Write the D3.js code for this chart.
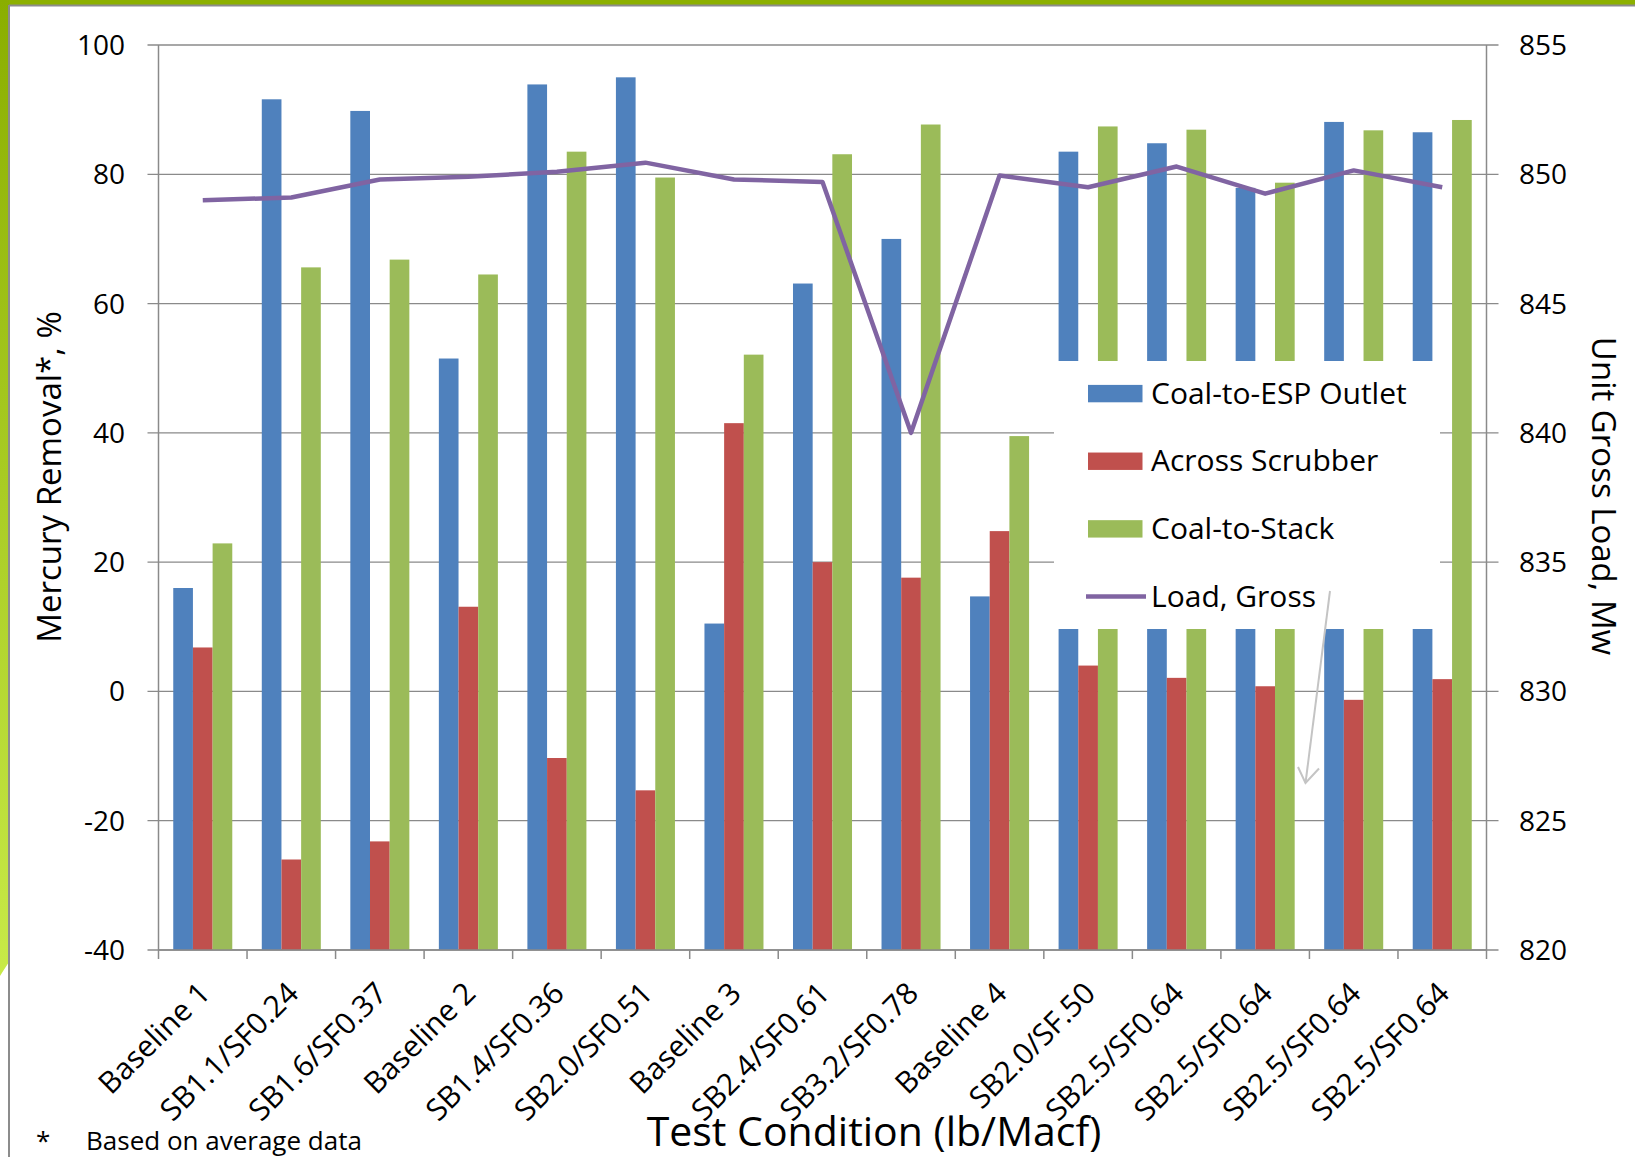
<!DOCTYPE html>
<html>
<head>
<meta charset="utf-8">
<script src="https://cdnjs.cloudflare.com/ajax/libs/d3/7.8.5/d3.min.js"></script>
<style>
  html, body { margin: 0; padding: 0; background: #fff; }
  svg { display: block; font-family: "Open Sans", "Noto Sans", sans-serif; }
</style>
</head>
<body>
<svg id="chart" width="1635" height="1157"></svg>
<script>
// Test conditions along the category axis
const categories = [
  "Baseline 1", "SB1.1/SF0.24", "SB1.6/SF0.37", "Baseline 2", "SB1.4/SF0.36",
  "SB2.0/SF0.51", "Baseline 3", "SB2.4/SF0.61", "SB3.2/SF0.78", "Baseline 4",
  "SB2.0/SF.50", "SB2.5/SF0.64", "SB2.5/SF0.64", "SB2.5/SF0.64", "SB2.5/SF0.64"
];

// Mercury removal, %
const coalToEspOutlet = [16.0, 91.6, 89.8, 51.5, 93.9, 95.0, 10.5, 63.1, 70.0, 14.7, 83.5, 84.8, 77.9, 88.1, 86.5];
const acrossScrubber  = [6.8, -26.0, -23.2, 13.1, -10.3, -15.3, 41.5, 20.0, 17.6, 24.8, 4.0, 2.1, 0.8, -1.3, 1.9];
const coalToStack     = [22.9, 65.6, 66.8, 64.5, 83.5, 79.5, 52.1, 83.1, 87.7, 39.5, 87.4, 86.9, 78.7, 86.8, 88.4];

// Unit gross load, MW
const loadGross = [849.0, 849.1, 849.8, 849.9, 850.1, 850.45, 849.8, 849.7, 840.0, 849.95, 849.5, 850.3, 849.25, 850.15, 849.5];

// Axis ticks
const leftTicks = [-40, -20, 0, 20, 40, 60, 80, 100];
const rightTicks = [820, 825, 830, 835, 840, 845, 850, 855];

const barSeries = [
  { name: "Coal-to-ESP Outlet", values: coalToEspOutlet, color: "#4F81BD" },
  { name: "Across Scrubber",    values: acrossScrubber,  color: "#C0504D" },
  { name: "Coal-to-Stack",      values: coalToStack,     color: "#9BBB59" }
];
const lineColor = "#8064A2";
const axisColor = "#8a8a8a";

const svg = d3.select("#chart");

// ---- slide frame: green accent strip and thin gray rules ----
const defs = svg.append("defs");
const grad = defs.append("linearGradient")
  .attr("id", "stripGrad").attr("x1", 0).attr("y1", 0).attr("x2", 0).attr("y2", 1);
grad.append("stop").attr("offset", "0%").attr("stop-color", "#8aae00");
grad.append("stop").attr("offset", "100%").attr("stop-color", "#c8ea48");

svg.append("rect").attr("x", 0).attr("y", 0).attr("width", 1635).attr("height", 5)
  .attr("fill", "#8cb000");
svg.append("path")
  .attr("d", "M0,0 L9,0 L9,962 Q5,968 0,976 Z")
  .attr("fill", "url(#stripGrad)");
svg.append("line").attr("x1", 9).attr("x2", 9).attr("y1", 5).attr("y2", 1157)
  .attr("stroke", "#8c8c8c").attr("stroke-width", 2);
svg.append("line").attr("x1", 9).attr("x2", 1635).attr("y1", 5.5).attr("y2", 5.5)
  .attr("stroke", "#8c8c8c").attr("stroke-width", 2);

// ---- scales ----
const plotLeft = 158.5, plotRight = 1486.5, plotTop = 45, plotBottom = 950;

const x = d3.scaleBand()
  .domain(d3.range(categories.length))
  .range([plotLeft, plotRight])
  .padding(0);

// three bars per category with a 150% gap (0.75 bar on each side)
const xs = d3.scaleBand()
  .domain(d3.range(barSeries.length))
  .range([0, x.bandwidth()])
  .paddingInner(0)
  .paddingOuter(0.75);

const y = d3.scaleLinear().domain([-40, 100]).range([plotBottom, plotTop]);
const y2 = d3.scaleLinear().domain([820, 855]).range([plotBottom, plotTop]);

// ---- gridlines ----
svg.append("g")
  .selectAll("line")
  .data(leftTicks)
  .join("line")
  .attr("x1", plotLeft - 11).attr("x2", plotRight + 12)
  .attr("y1", d => y(d)).attr("y2", d => y(d))
  .attr("stroke", axisColor).attr("stroke-width", 1.3);

// ---- bars (based at the axis minimum) ----
const base = y.domain()[0];
const groups = svg.append("g")
  .selectAll("g")
  .data(categories.map((c, i) => i))
  .join("g")
  .attr("transform", i => `translate(${x(i)},0)`);

groups.selectAll("rect")
  .data(i => barSeries.map((s, k) => ({ k, v: s.values[i], color: s.color })))
  .join("rect")
  .attr("x", d => xs(d.k))
  .attr("width", xs.bandwidth())
  .attr("y", d => y(Math.max(d.v, base)))
  .attr("height", d => Math.abs(y(base) - y(d.v)))
  .attr("fill", d => d.color);

// ---- legend panel ----
const legend = svg.append("g");
legend.append("rect")
  .attr("x", 1054).attr("y", 361).attr("width", 386).attr("height", 268)
  .attr("fill", "#ffffff");

const legendItems = barSeries.map(s => ({ name: s.name, color: s.color, type: "bar" }))
  .concat([{ name: "Load, Gross", color: lineColor, type: "line" }]);
const legendRow = d3.scaleLinear().domain([0, 3]).range([393.6, 596.5]);

const li = legend.selectAll("g.item")
  .data(legendItems)
  .join("g")
  .attr("class", "item")
  .attr("transform", (d, i) => `translate(0,${legendRow(i)})`);

li.filter(d => d.type === "bar").append("rect")
  .attr("x", 1088).attr("y", -8.7).attr("width", 54.5).attr("height", 17.4)
  .attr("fill", d => d.color);
li.filter(d => d.type === "line").append("line")
  .attr("x1", 1086).attr("x2", 1146).attr("y1", 0).attr("y2", 0)
  .attr("stroke", d => d.color).attr("stroke-width", 4.5);
li.append("text")
  .attr("x", 1151).attr("y", 10)
  .attr("font-size", 30).attr("fill", "#000")
  .text(d => d.name);

// ---- load line on the secondary axis ----
const line = d3.line()
  .x((d, i) => x(i) + x.bandwidth() / 2)
  .y(d => y2(d));
svg.append("path")
  .datum(loadGross)
  .attr("d", line)
  .attr("fill", "none")
  .attr("stroke", lineColor)
  .attr("stroke-width", 4.5)
  .attr("stroke-linejoin", "round");

// ---- axes ----
const axisG = svg.append("g").attr("font-size", 28).attr("fill", "#000");

// left axis
axisG.append("line")
  .attr("x1", plotLeft).attr("x2", plotLeft).attr("y1", plotTop).attr("y2", plotBottom)
  .attr("stroke", axisColor).attr("stroke-width", 1.5);
axisG.append("g").selectAll("text")
  .data(leftTicks).join("text")
  .attr("x", 125).attr("y", d => y(d) + 10)
  .attr("text-anchor", "end")
  .text(d => d);

// right axis
axisG.append("line")
  .attr("x1", plotRight).attr("x2", plotRight).attr("y1", plotTop).attr("y2", plotBottom)
  .attr("stroke", axisColor).attr("stroke-width", 1.5);
axisG.append("g").selectAll("text")
  .data(rightTicks).join("text")
  .attr("x", 1519).attr("y", d => y2(d) + 10)
  .attr("text-anchor", "start")
  .text(d => d);

// bottom axis with ticks at category boundaries
axisG.append("line")
  .attr("x1", plotLeft).attr("x2", plotRight).attr("y1", plotBottom).attr("y2", plotBottom)
  .attr("stroke", axisColor).attr("stroke-width", 1.5);
axisG.append("g").selectAll("line")
  .data(d3.range(categories.length + 1))
  .join("line")
  .attr("x1", i => plotLeft + i * x.step()).attr("x2", i => plotLeft + i * x.step())
  .attr("y1", plotBottom).attr("y2", plotBottom + 9)
  .attr("stroke", axisColor).attr("stroke-width", 1.5);

axisG.append("g").selectAll("text")
  .data(categories)
  .join("text")
  .attr("transform", (d, i) =>
    `translate(${x(i) + x.bandwidth() / 2 + 9},${plotBottom + 45}) rotate(-45)`)
  .attr("text-anchor", "end")
  .attr("font-size", 30)
  .text(d => d);

// ---- axis titles ----
svg.append("text")
  .attr("transform", "translate(61,477) rotate(-90)")
  .attr("text-anchor", "middle")
  .attr("font-size", 33)
  .text("Mercury Removal*, %");

svg.append("text")
  .attr("transform", "translate(1592,496) rotate(90)")
  .attr("text-anchor", "middle")
  .attr("font-size", 33)
  .text("Unit Gross Load, Mw");

svg.append("text")
  .attr("x", 874).attr("y", 1146)
  .attr("text-anchor", "middle")
  .attr("font-size", 41)
  .text("Test Condition (lb/Macf)");

// ---- pointer from the legend entry toward the load scale ----
const arrow = svg.append("g")
  .attr("stroke", "#c4c4c4").attr("stroke-width", 2).attr("fill", "none");
arrow.append("line").attr("x1", 1330).attr("y1", 591).attr("x2", 1305.5).attr("y2", 783);
arrow.append("polyline").attr("points", "1298,767 1305.5,783 1319,768.5");

// ---- footnote ----
svg.append("text").attr("x", 36).attr("y", 1150).attr("font-size", 26).text("*");
svg.append("text").attr("x", 86).attr("y", 1150).attr("font-size", 26).text("Based on average data");
</script>
</body>
</html>
